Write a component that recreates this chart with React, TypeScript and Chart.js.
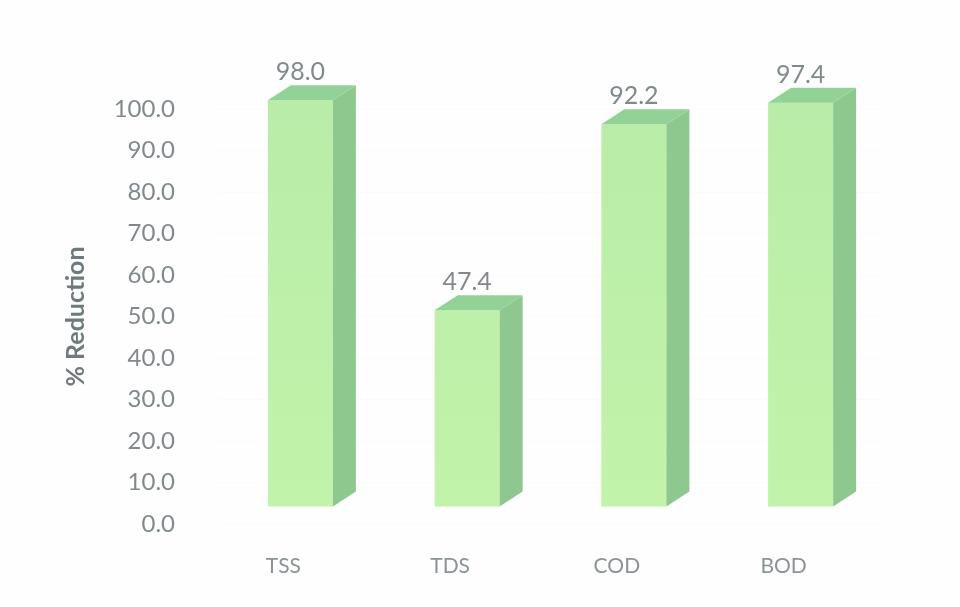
import React, { useEffect, useRef } from "react";
import { Chart, registerables } from "chart.js";

Chart.register(...registerables);

const categories = ["TSS", "TDS", "COD", "BOD"];
const reduction = [98.0, 47.4, 92.2, 97.4];

const FONT = "Lato";
const LIFT = 17;
const DEPTH_X = 23;
const DEPTH_Y = 15;

const bars3d = {
  id: "bars3d",
  beforeDatasetsDraw(chart: any) {
    chart.ctx.save();
    chart.ctx.translate(0, -LIFT);
  },
  afterDatasetsDraw(chart: any) {
    const ctx = chart.ctx;
    const meta = chart.getDatasetMeta(0);
    meta.data.forEach((bar: any, i: number) => {
      const l = bar.x - bar.width / 2;
      const r = bar.x + bar.width / 2;
      const t = bar.y;
      const b = bar.base;
      // side face
      ctx.fillStyle = "#8fc88f";
      ctx.beginPath();
      ctx.moveTo(r, t);
      ctx.lineTo(r + DEPTH_X, t - DEPTH_Y);
      ctx.lineTo(r + DEPTH_X, b - DEPTH_Y);
      ctx.lineTo(r, b);
      ctx.closePath();
      ctx.fill();
      // top face
      ctx.fillStyle = "#93d296";
      ctx.beginPath();
      ctx.moveTo(l, t);
      ctx.lineTo(l + DEPTH_X, t - DEPTH_Y);
      ctx.lineTo(r + DEPTH_X, t - DEPTH_Y);
      ctx.lineTo(r, t);
      ctx.closePath();
      ctx.fill();
      // value label
      ctx.fillStyle = "#808a8c";
      ctx.font = `25px ${FONT}`;
      ctx.textAlign = "center";
      ctx.textBaseline = "middle";
      ctx.fillText(reduction[i].toFixed(1), bar.x, t - 28);
    });
    ctx.restore();
  },
};

export default function App() {
  const ref = useRef<HTMLCanvasElement>(null);
  useEffect(() => {
    const chart = new Chart(ref.current!, {
      type: "bar",
      data: {
        labels: categories,
        datasets: [
          {
            data: reduction,
            barPercentage: 0.39,
            categoryPercentage: 1,
            clip: false,
            backgroundColor: (c: any) => {
              const area = c.chart.chartArea;
              if (!area) return "#bdf0a8";
              const g = c.chart.ctx.createLinearGradient(0, area.top, 0, area.bottom);
              g.addColorStop(0, "#b8eca8");
              g.addColorStop(1, "#c2f3aa");
              return g;
            },
            borderWidth: 0,
          },
        ],
      },
      options: {
        responsive: false,
        animation: false,
        events: [],
        layout: { padding: { left: 61, right: 76, top: 109, bottom: 0 } },
        plugins: { legend: { display: false }, tooltip: { enabled: false } },
        scales: {
          x: {
            afterFit: (s: any) => {
              s.height = 83;
            },
            grid: { display: false },
            border: { display: false },
            ticks: {
              labelOffset: -17,
              padding: 22,
              maxRotation: 0,
              color: "#8a9496",
              font: { family: FONT, size: 21 },
            },
          },
          y: {
            min: 0,
            max: 100,
            afterFit: (s: any) => {
              s.width = 156;
            },
            grid: { color: "#fbfbfb", drawTicks: false },
            border: { display: false },
            ticks: {
              stepSize: 10,
              padding: 42,
              color: "#808a8c",
              font: { family: FONT, size: 24 },
              callback: (v: any) => Number(v).toFixed(1),
            },
            title: {
              display: true,
              text: "% Reduction",
              color: "#6f7a7c",
              font: { family: FONT, size: 25, weight: "bold" },
              padding: 0,
            },
          },
        },
      },
      plugins: [bars3d],
    } as any);
    return () => chart.destroy();
  }, []);
  return (
    <div style={{ position: "fixed", left: 0, top: 0, width: 960, height: 607, background: "#fefefe" }}>
      <canvas ref={ref} width={960} height={607} style={{ display: "block" }} />
    </div>
  );
}
